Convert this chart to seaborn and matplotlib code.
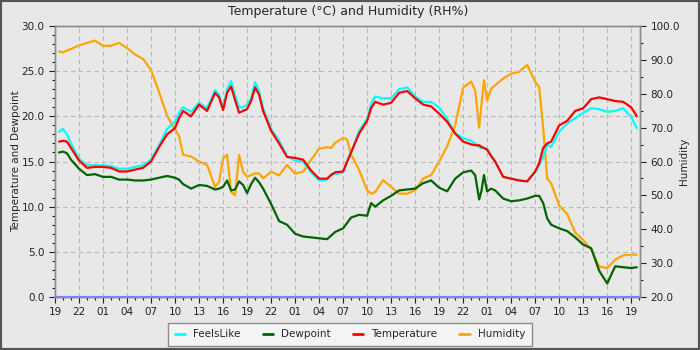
"""Temperature / dewpoint / humidity over ~3 days, weather-station style."""

import matplotlib.dates as mdates
import matplotlib.pyplot as plt
import pandas as pd
import seaborn as sns
from matplotlib.lines import Line2D
from matplotlib.patches import Rectangle
from matplotlib.ticker import FormatStrFormatter, MultipleLocator

sns.set_style("ticks")
plt.rcParams.update(
    {
        "font.family": ["DejaVu Sans"],
        "axes.edgecolor": "#8c8c8c",
        "xtick.color": "#222222",
        "ytick.color": "#222222",
        "xtick.labelsize": 7.5,
        "ytick.labelsize": 7.5,
    }
)

BG = "#e8e8e8"
COLORS = {
    "FeelsLike": "#00ffff",
    "Dewpoint": "#006400",
    "Temperature": "#ff0000",
    "Humidity": "#ffa500",
}

START = pd.Timestamp("2024-06-01 19:00")

# hours since the first 19:00 tick
hours = [
    0.5, 1, 1.5, 2, 3, 4, 5, 6, 7, 8, 9, 10, 11, 12, 13, 14, 15, 15.5, 16, 17,
    18, 19, 20, 20.5, 21, 21.5, 22, 22.5, 23, 23.5, 24, 24.5, 25, 25.5, 26, 27,
    28, 29, 30, 31, 32, 33, 34, 34.5, 35, 36, 36.5, 37, 38, 39, 39.5, 40, 41,
    42, 43, 44, 45, 46, 47, 48, 49, 50, 51, 52, 52.5, 53, 53.3, 53.6, 54, 54.5,
    55, 56, 57, 58, 59, 60, 60.5, 61, 61.5, 62, 63, 64, 65, 66, 67, 68, 69, 70,
    71, 72, 72.7,
]
feels_like = [
    18.3, 18.6, 18.0, 17.0, 15.3, 14.6, 14.6, 14.6, 14.5, 14.2, 14.2, 14.4, 14.6,
    15.2, 16.8, 18.6, 19.4, 20.4, 21.0, 20.5, 21.5, 20.9, 22.9, 22.4, 20.8, 23.0,
    23.9, 22.3, 21.0, 21.0, 21.3, 22.0, 23.8, 22.8, 20.9, 18.6, 17.3, 15.6, 15.1,
    15.0, 13.8, 12.9, 13.0, 13.6, 13.6, 13.8, 14.9, 16.0, 18.4, 19.7, 21.4, 22.2,
    22.0, 22.0, 23.0, 23.2, 22.2, 21.6, 21.6, 21.0, 19.7, 18.1, 17.6, 17.3, 17.0,
    16.6, 16.5, 16.5, 16.4, 15.6, 15.0, 13.3, 13.1, 12.9, 12.8, 13.8, 14.6, 15.5,
    16.9, 16.6, 18.3, 19.2, 19.8, 20.4, 20.9, 20.8, 20.5, 20.6, 20.9, 19.9, 18.7,
]
dewpoint = [
    16.0, 16.1, 15.9, 15.2, 14.2, 13.5, 13.6, 13.3, 13.3, 13.0, 13.0, 12.9, 12.9,
    13.0, 13.2, 13.4, 13.2, 13.0, 12.5, 12.0, 12.4, 12.3, 11.9, 12.0, 12.2, 12.9,
    11.8, 11.9, 12.8, 12.4, 11.5, 12.5, 13.2, 12.7, 12.0, 10.3, 8.4, 8.0, 7.0,
    6.7, 6.6, 6.5, 6.4, 6.8, 7.2, 7.6, 8.2, 8.8, 9.1, 9.0, 10.4, 10.0, 10.7, 11.2,
    11.8, 11.9, 12.0, 12.6, 12.9, 12.1, 11.7, 13.1, 13.8, 14.0, 13.5, 10.8, 11.8,
    13.5, 11.7, 12.0, 11.8, 10.9, 10.6, 10.7, 10.9, 11.2, 11.2, 10.4, 8.7, 8.0,
    7.6, 7.3, 6.6, 5.8, 5.4, 2.9, 1.5, 3.4, 3.3, 3.2, 3.3,
]
temperature = [
    17.2, 17.3, 17.2, 16.5, 15.1, 14.3, 14.4, 14.4, 14.3, 13.9, 13.9, 14.1, 14.3,
    15.0, 16.6, 18.0, 18.7, 19.8, 20.6, 20.0, 21.3, 20.6, 22.6, 22.1, 20.7, 22.6,
    23.3, 21.8, 20.4, 20.6, 20.8, 21.7, 23.2, 22.4, 20.6, 18.4, 17.0, 15.5, 15.4,
    15.2, 14.0, 13.1, 13.1, 13.5, 13.8, 13.9, 15.0, 16.0, 18.1, 19.5, 20.9, 21.6,
    21.3, 21.5, 22.6, 22.8, 22.0, 21.3, 21.1, 20.3, 19.4, 18.1, 17.2, 16.9, 16.8,
    16.8, 16.6, 16.5, 16.3, 15.6, 15.0, 13.3, 13.1, 12.9, 12.8, 13.9, 14.8, 16.5,
    17.0, 17.2, 19.0, 19.5, 20.6, 20.9, 21.9, 22.1, 21.9, 21.7, 21.6, 21.0, 20.0,
]
humidity = [
    92.5, 92.2, 92.8, 93.2, 94.3, 95.0, 95.7, 94.1, 94.2, 95.0, 93.5, 91.6, 90.3,
    87.0, 80.5, 73.5, 69.5, 67.5, 62.0, 61.5, 60.0, 59.0, 52.5, 54.0, 61.0, 62.0,
    51.0, 50.0, 62.0, 57.0, 55.5, 56.0, 56.5, 56.5, 55.0, 57.0, 55.9, 59.0, 56.4,
    57.0, 60.5, 63.8, 64.2, 64.0, 65.5, 67.0, 66.5, 62.0, 57.5, 51.5, 50.5, 51.0,
    54.5, 52.5, 50.5, 50.5, 51.5, 55.0, 56.0, 60.0, 64.5, 70.7, 81.8, 83.6, 81.0,
    70.0, 77.0, 84.0, 78.0, 81.5, 82.5, 84.5, 85.9, 86.5, 88.5, 83.5, 82.0, 70.0,
    55.0, 53.5, 47.0, 44.5, 39.0, 36.8, 34.0, 29.0, 28.5, 31.0, 32.3, 32.5, 32.5,
]

times = START + pd.to_timedelta(hours, unit="h")
left = pd.DataFrame(
    {"time": times, "FeelsLike": feels_like, "Dewpoint": dewpoint, "Temperature": temperature}
).melt("time", var_name="series", value_name="value")

fig = plt.figure(figsize=(7, 3.5), dpi=100, facecolor=BG)
ax = fig.add_axes([0.0786, 0.1514, 0.8357, 0.7743])
ax2 = ax.twinx()
# temperatures above humidity, background from the humidity axes
ax.set_zorder(ax2.get_zorder() + 1)
ax.patch.set_visible(False)
ax2.set_facecolor(BG)

sns.lineplot(
    data=left,
    x="time",
    y="value",
    hue="series",
    hue_order=["FeelsLike", "Dewpoint", "Temperature"],
    palette=COLORS,
    linewidth=1.6,
    legend=False,
    ax=ax,
)
sns.lineplot(x=times, y=humidity, color=COLORS["Humidity"], linewidth=1.6, ax=ax2)
ax.axhline(0, color="#7f7fff", linewidth=1.6, zorder=5, clip_on=False)

ax.set_xlim(START, START + pd.Timedelta(hours=73.1))
ax.xaxis.set_major_locator(mdates.HourLocator(byhour=[1, 4, 7, 10, 13, 16, 19, 22]))
ax.xaxis.set_major_formatter(mdates.DateFormatter("%H"))
ax.xaxis.set_minor_locator(mdates.HourLocator())

ax.set_ylim(0, 30)
ax.yaxis.set_major_locator(MultipleLocator(5))
ax.yaxis.set_minor_locator(MultipleLocator(1))
ax.yaxis.set_major_formatter(FormatStrFormatter("%.1f"))
ax2.set_ylim(20, 100)
ax2.yaxis.set_major_locator(MultipleLocator(10))
ax2.yaxis.set_minor_locator(MultipleLocator(5))
ax2.yaxis.set_major_formatter(FormatStrFormatter("%.1f"))

for a in (ax, ax2):
    a.tick_params(which="major", length=4, width=0.8, direction="out")
    a.tick_params(which="minor", length=2.5, width=0.8, direction="out")
    for s in a.spines.values():
        s.set_color("#8c8c8c")
        s.set_linewidth(1.0)

ax.grid(True, which="major", linestyle=(0, (4, 3)), color="#b8b8b8", linewidth=0.8)
ax2.grid(False)

ax.set_xlabel("")
ax.set_ylabel("Temperature and Dewpoint", fontsize=7.5, labelpad=0)
ax2.set_ylabel("Humidity", fontsize=7.5, rotation=90, labelpad=-1)
fig.text(0.497, 0.968, "Temperature (°C) and Humidity (RH%)", ha="center", va="center", fontsize=9)

handles = [Line2D([], [], color=COLORS[k], linewidth=2) for k in COLORS]
fig.legend(
    handles,
    list(COLORS),
    loc="center",
    bbox_to_anchor=(0.5, 0.045),
    ncol=4,
    frameon=True,
    fancybox=False,
    edgecolor="#8c8c8c",
    facecolor="#f4f4f4",
    framealpha=1,
    fontsize=7.5,
    handlelength=1.0,
    columnspacing=2.1,
    borderpad=0.6,
)

fig.patches.append(
    Rectangle((0, 0), 1, 1, transform=fig.transFigure, fill=False, edgecolor="#555555", linewidth=3)
)
fig.savefig("out.png", dpi=100, facecolor=BG)
